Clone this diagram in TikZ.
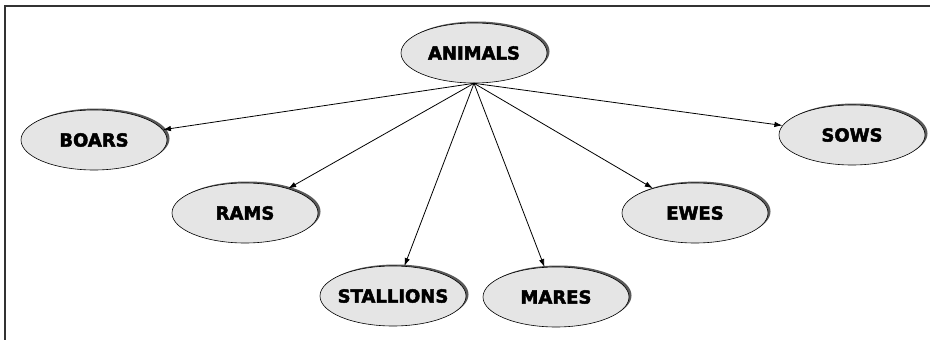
\documentclass[tikz,border=0pt]{standalone}
\usepackage{fontspec}
\setmainfont{DejaVu Sans}[BoldFeatures={FakeBold=2.5}]
\usetikzlibrary{shapes.geometric,shadows,arrows.meta}
% keep long names from widening the ellipse
\newcommand{\kind}[1]{\makebox[0pt]{#1}}
\tikzset{
  beast/.style={ellipse,draw=black,line width=0.6pt,fill=black!10,
    minimum width=146pt,minimum height=60pt,inner sep=0pt,
    font=\bfseries\fontsize{18}{18}\selectfont,
    drop shadow={shadow xshift=2.5pt,shadow yshift=1.5pt,fill=black!65,opacity=1}},
  link/.style={-{Latex[length=8pt,width=5.5pt]},line width=0.8pt}
}
\begin{document}
\begin{tikzpicture}[x=1pt,y=-1pt]
\useasboundingbox (0,0) rectangle (930,340);
% frame
\draw[line width=1.2pt,black!80] (5,340) -- (5,6) -- (930,6);
% nodes
\node[beast] (animals) at (474,53) {\kind{ANIMALS}};
\node[beast] (boars) at (94,140) {\kind{BOARS}};
\node[beast] (rams) at (245,213) {\kind{RAMS}};
\node[beast] (stallions) at (393,296) {\kind{STALLIONS}};
\node[beast] (mares) at (556,297) {\kind{MARES}};
\node[beast] (ewes) at (695,213) {\kind{EWES}};
\node[beast] (sows) at (852,135) {\kind{SOWS}};
% links
\draw[link] (animals.south) -- (boars);
\draw[link] (animals.south) -- (rams);
\draw[link] (animals.south) -- (stallions);
\draw[link] (animals.south) -- (mares);
\draw[link] (animals.south) -- (ewes);
\draw[link] (animals.south) -- (sows);
\end{tikzpicture}
\end{document}
